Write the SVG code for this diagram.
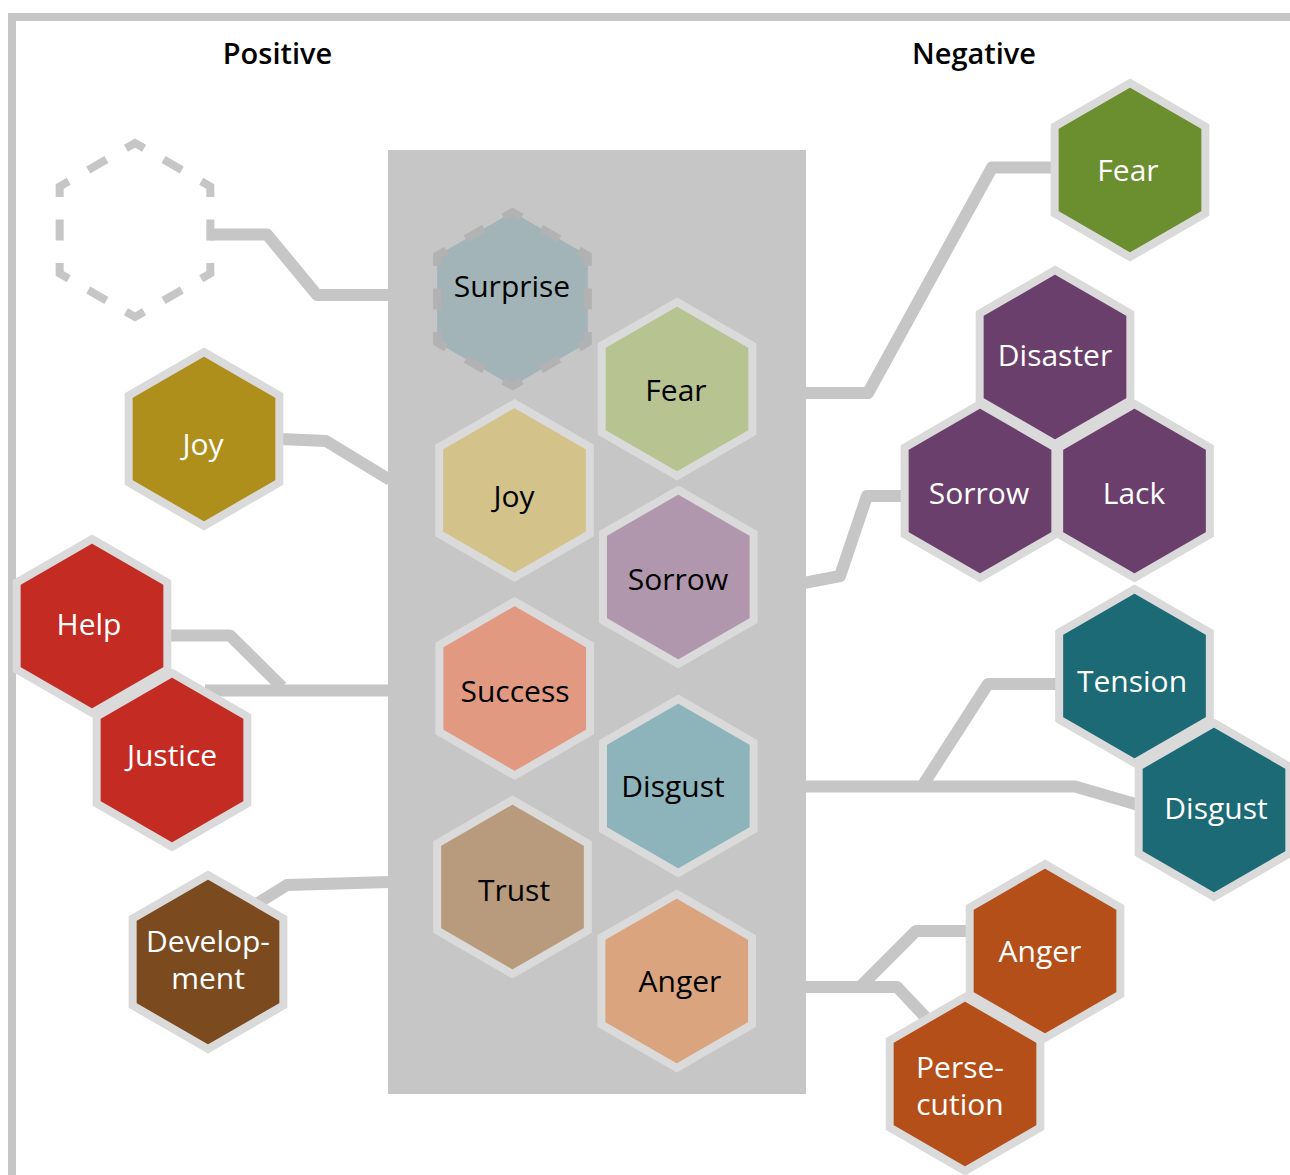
<svg xmlns="http://www.w3.org/2000/svg" xmlns:xlink="http://www.w3.org/1999/xlink" width="1290" height="1175" viewBox="0 0 1290 1175">
<style>
.bg{fill:#ffffff}
.frame{fill:none;stroke:#c6c6c6;stroke-width:8}
.panel{fill:#c6c6c6}
.conn{fill:none;stroke:#c6c6c6;stroke-width:12;stroke-linejoin:round}
.hx{stroke:#dadada;stroke-width:8;stroke-linejoin:miter}
.dash-out{fill:none;stroke:#c6c6c6;stroke-width:8;stroke-dasharray:21 22.5;stroke-dashoffset:10.5}
.dash-in{fill:#a2b4b8;stroke:#b2b2b2;stroke-width:8;stroke-dasharray:21 22.5;stroke-dashoffset:10.5}
text{font-family:"Open Sans","Noto Sans","DejaVu Sans",sans-serif;font-size:30px;font-weight:500;text-anchor:middle}
.hdr{font-size:29px;font-weight:600;fill:#000}
.dk{fill:#000}
.wt{fill:#fff}
</style>
<defs>
<polygon id="hex" points="0,-87 75.34,-43.5 75.34,43.5 0,87 -75.34,43.5 -75.34,-43.5"/>
</defs>
<rect class="bg" x="0" y="0" width="1290" height="1175"/>
<path class="frame" d="M12 1175 L12 17 L1290 17"/>
<text class="hdr" x="277.5" y="64">Positive</text>
<text class="hdr" x="974" y="64">Negative</text>
<g id="connectors">
<path class="conn" d="M210 234.5 L267 234.5 L317 295 L390 295"/>
<path class="conn" d="M280 439 L326 441 L390 480"/>
<path class="conn" d="M168 635.5 L230 635.5 L282 687"/>
<path class="conn" d="M205 690.5 L390 690.5"/>
<path class="conn" d="M250 908 L287 885 L390 882"/>
<path class="conn" d="M804 393 L868 393 L992 167.5 L1058 167.5"/>
<path class="conn" d="M804 583 L840 576 L867 496 L912 496"/>
<path class="conn" d="M1062 684 L988 684 L922 786.5"/>
<path class="conn" d="M804 786.5 L1075 786.5 L1142 806"/>
<path class="conn" d="M804 987 L897 987 L932 1024"/>
<path class="conn" d="M860 987 L916 931 L975 931"/>
</g>
<rect id="panel" class="panel" x="388" y="150" width="418" height="944"/>
<g id="n-blank"><use xlink:href="#hex" class="dash-out" transform="translate(135 230)"/></g>
<g id="n-surprise"><use xlink:href="#hex" class="dash-in" transform="translate(512.5 299)"/><text class="dk" x="512" y="297">Surprise</text></g>
<g id="n-fear-c"><use xlink:href="#hex" class="hx" fill="#b8c392" transform="translate(677 389)"/><text class="dk" x="676" y="401">Fear</text></g>
<g id="n-joy-c"><use xlink:href="#hex" class="hx" fill="#d4c28b" transform="translate(514.5 490.5)"/><text class="dk" x="514" y="507">Joy</text></g>
<g id="n-sorrow-c"><use xlink:href="#hex" class="hx" fill="#b097ae" transform="translate(678.3 577)"/><text class="dk" x="678" y="590">Sorrow</text></g>
<g id="n-success"><use xlink:href="#hex" class="hx" fill="#e29982" transform="translate(514.7 688.5)"/><text class="dk" x="515" y="702">Success</text></g>
<g id="n-disgust-c"><use xlink:href="#hex" class="hx" fill="#8db4ba" transform="translate(678.3 786)"/><text class="dk" x="673" y="797">Disgust</text></g>
<g id="n-trust"><use xlink:href="#hex" class="hx" fill="#b89b7d" transform="translate(512.5 887)"/><text class="dk" x="514" y="901">Trust</text></g>
<g id="n-anger-c"><use xlink:href="#hex" class="hx" fill="#daa47e" transform="translate(676.7 981)"/><text class="dk" x="680" y="992">Anger</text></g>
<g id="n-joy-l"><use xlink:href="#hex" class="hx" fill="#ae8f1c" transform="translate(204 439)"/><text class="wt" x="203" y="455">Joy</text></g>
<g id="n-help"><use xlink:href="#hex" class="hx" fill="#c42b22" transform="translate(92 626)"/><text class="wt" x="89" y="635">Help</text></g>
<g id="n-justice"><use xlink:href="#hex" class="hx" fill="#c42b22" transform="translate(172 760)"/><text class="wt" x="172" y="766">Justice</text></g>
<g id="n-development"><use xlink:href="#hex" class="hx" fill="#7b4b1f" transform="translate(208 962)"/><text class="wt" x="208" y="952">Develop-</text><text class="wt" x="208" y="989">ment</text></g>
<g id="n-fear-r"><use xlink:href="#hex" class="hx" fill="#6b8e2f" transform="translate(1130 170)"/><text class="wt" x="1128" y="181">Fear</text></g>
<g id="n-disaster"><use xlink:href="#hex" class="hx" fill="#6b3f6b" transform="translate(1055 357)"/><text class="wt" x="1055" y="366">Disaster</text></g>
<g id="n-sorrow-r"><use xlink:href="#hex" class="hx" fill="#6b3f6b" transform="translate(980 491)"/><text class="wt" x="979" y="504">Sorrow</text></g>
<g id="n-lack"><use xlink:href="#hex" class="hx" fill="#6b3f6b" transform="translate(1134.5 491)"/><text class="wt" x="1134" y="504">Lack</text></g>
<g id="n-tension"><use xlink:href="#hex" class="hx" fill="#1b6a75" transform="translate(1134.5 676)"/><text class="wt" x="1132" y="692">Tension</text></g>
<g id="n-disgust-r"><use xlink:href="#hex" class="hx" fill="#1b6a75" transform="translate(1214 810)"/><text class="wt" x="1216" y="819">Disgust</text></g>
<g id="n-anger-r"><use xlink:href="#hex" class="hx" fill="#b54f19" transform="translate(1045 951)"/><text class="wt" x="1040" y="962">Anger</text></g>
<g id="n-persecution"><use xlink:href="#hex" class="hx" fill="#b54f19" transform="translate(965 1084)"/><text class="wt" x="960" y="1078">Perse-</text><text class="wt" x="960" y="1115">cution</text></g>
</svg>
